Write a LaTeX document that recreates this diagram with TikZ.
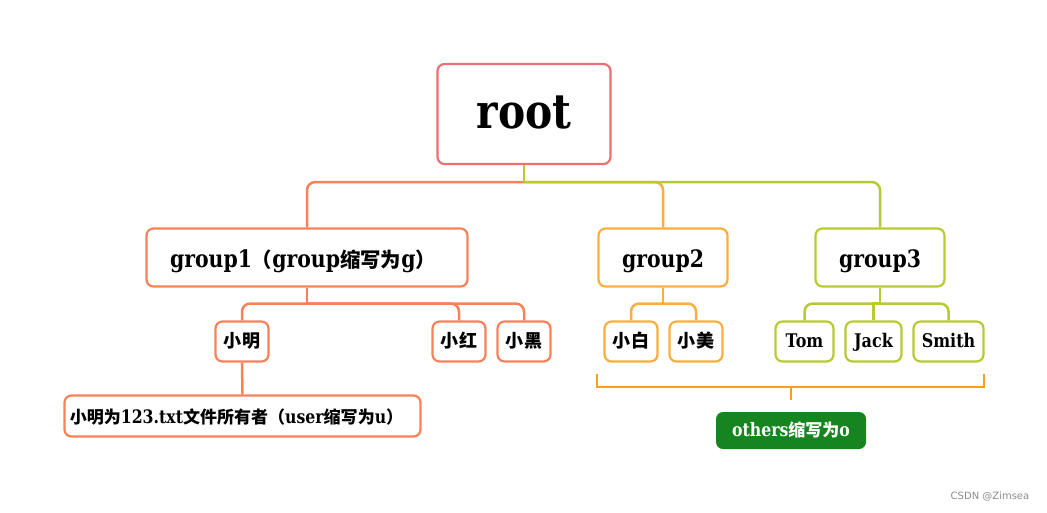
\documentclass[tikz,border=0pt]{standalone}
\usepackage{fontspec}
\setmainfont{DejaVu Serif}[FakeStretch=0.85]
\newfontfamily\cjk{Noto Sans CJK SC}[Scale=0.85]
\newfontfamily\cjkb{Noto Sans CJK SC}[Scale=0.92]
\newfontfamily\wmfont{DejaVu Sans}
\usetikzlibrary{calc}
\definecolor{cRoot}{HTML}{EE6E72}
\definecolor{cGa}{HTML}{F7825A}
\definecolor{cGb}{HTML}{FBAD3E}
\definecolor{cGc}{HTML}{B8CA31}
\definecolor{cBrk}{HTML}{F9A01B}
\definecolor{cGreen}{HTML}{17851F}
\newcommand\zh[1]{{\cjk\bfseries #1}}
\newcommand\zhb[1]{{\cjkb\bfseries #1}}
\tikzset{
  box/.style={draw, line width=2.2pt, rounded corners=7pt, fill=white, inner sep=0pt, font=\bfseries},
  rootlbl/.style={font=\bfseries\fontsize{48}{52}\selectfont, text height=34pt, text depth=6pt},
  lbl/.style={font=\bfseries\fontsize{24}{28}\selectfont, text height=22pt, text depth=3pt},
  small/.style={font=\bfseries\fontsize{18.8}{22}\selectfont, text height=14pt, text depth=3pt},
  zsmall/.style={font=\bfseries\fontsize{21.2}{24}\selectfont, text height=14pt, text depth=3pt},
  midlbl/.style={font=\bfseries\fontsize{18.5}{22}\selectfont},
  conn/.style={line width=2.5pt, rounded corners=8pt},
  straight/.style={line width=2.5pt},
}
\begin{document}
\begin{tikzpicture}[x=1pt,y=-1pt]
\useasboundingbox (0,0) rectangle (1047,512);

% nodes
\node[box, draw=cRoot, minimum width=173pt, minimum height=100pt, rootlbl] (root) at (524,114) {root};
\node[box, draw=cGa, minimum width=321pt, minimum height=58pt, lbl] (g1) at (307,257.5) {group1\zh{（}group\zh{缩写为}g\zh{）}\hspace*{8pt}};
\node[box, draw=cGb, minimum width=129pt, minimum height=58pt, lbl] (g2) at (663,257.5) {group2};
\node[box, draw=cGc, minimum width=129pt, minimum height=58pt, lbl] (g3) at (880,257.5) {group3};

\node[box, draw=cGa, minimum width=53pt, minimum height=40pt, zsmall] (ming) at (242,341.5) {\zh{小明}};
\node[box, draw=cGa, minimum width=53pt, minimum height=40pt, zsmall] (hong) at (459,341.5) {\zh{小红}};
\node[box, draw=cGa, minimum width=53pt, minimum height=40pt, zsmall] (hei) at (524,341.5) {\zh{小黑}};

\node[box, draw=cGb, minimum width=53pt, minimum height=40pt, zsmall] (bai) at (631,341.5) {\zh{小白}};
\node[box, draw=cGb, minimum width=53pt, minimum height=40pt, zsmall] (mei) at (696,341.5) {\zh{小美}};

\node[box, draw=cGc, minimum width=58pt, minimum height=40pt, small] (tom) at (804.5,341.5) {Tom};
\node[box, draw=cGc, minimum width=56pt, minimum height=40pt, small] (jack) at (873.5,341.5) {Jack};
\node[box, draw=cGc, minimum width=70pt, minimum height=40pt, small] (smith) at (948.5,341.5) {Smith};

\node[box, draw=cGa, minimum width=356pt, minimum height=41pt, midlbl, text height=16pt, text depth=2pt] (detail) at (242.5,416) {\zhb{小明为}123.txt\zhb{文件所有者（}user\zhb{缩写为}u\zhb{）}\hspace*{12pt}};

\node[box, draw=none, fill=cGreen, text=white, minimum width=150pt, minimum height=37pt, midlbl, text height=15pt, text depth=2.6pt] (others) at (791,430.5) {others\zhb{缩写为}o};

\node[font=\wmfont\fontsize{10}{12}\selectfont, text=black!45] (wm) at (990,497) {CSDN @Zimsea};

% root connectors
\coordinate (hub) at ($(root.south)+(0,17)$);
\draw[conn, cGa] (hub) -| (g1.north);
\draw[conn, cGb] (hub) -| (g2.north);
\draw[conn, cGc] (hub) -| (g3.north);
\draw[straight, cGc] (root.south) -- (hub);

% group1 children
\coordinate (h1) at ($(g1.south)+(0,16)$);
\draw[straight, cGa] (g1.south) -- (h1);
\draw[conn, cGa] (h1) -| (ming.north);
\draw[conn, cGa] (h1) -| (hong.north);
\draw[conn, cGa] (h1) -| (hei.north);
\draw[straight, cGa] (ming.south) -- (detail.north);

% group2 children
\coordinate (h2) at ($(g2.south)+(0,16)$);
\draw[straight, cGb] (g2.south) -- (h2);
\draw[conn, cGb] (h2) -| (bai.north);
\draw[conn, cGb] (h2) -| (mei.north);

% group3 children
\coordinate (h3) at ($(g3.south)+(0,16)$);
\draw[straight, cGc] (g3.south) -- (h3);
\draw[conn, cGc] (h3) -| (tom.north);
\draw[straight, cGc] (h3) -| (jack.north);
\draw[conn, cGc] (h3) -| (smith.north);

% bracket
\coordinate (bl) at (597,374);
\coordinate (br) at (984,374);
\coordinate (bm) at (791,387);
\coordinate (bt) at (791,400);
\draw[straight, cBrk] (bl) |- (bm) -| (br);
\draw[straight, cBrk] (bm) -- (bt);
\end{tikzpicture}
\end{document}
